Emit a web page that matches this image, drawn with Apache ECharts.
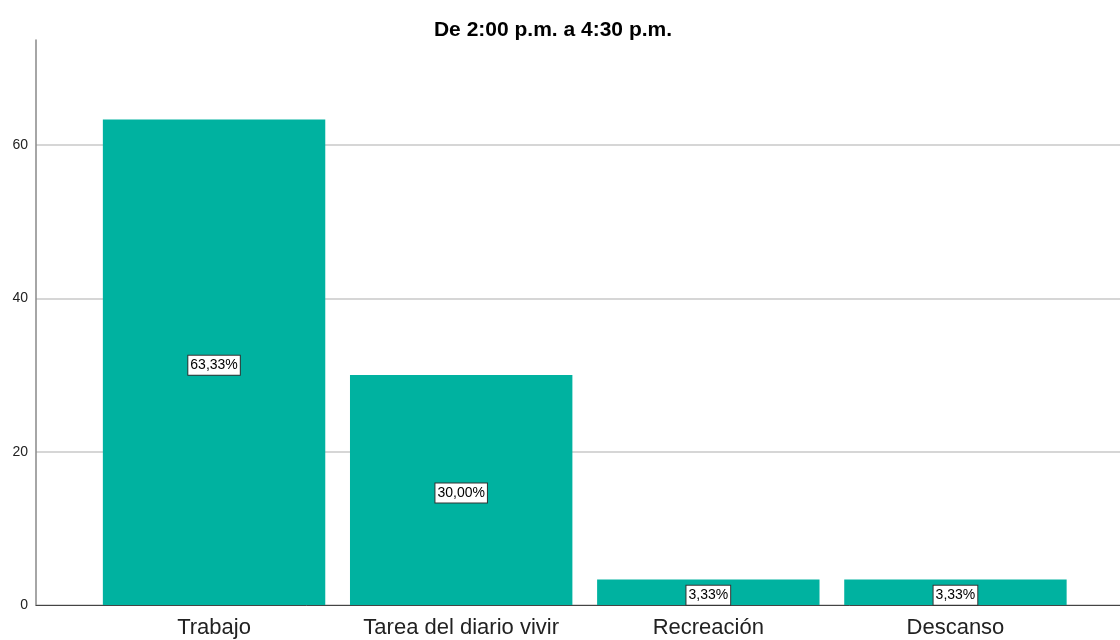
<!DOCTYPE html>
<html>
<head>
<meta charset="utf-8">
<script src="https://cdn.jsdelivr.net/npm/echarts@6/dist/echarts.min.js"></script>
<style>
  html, body { margin: 0; padding: 0; background: #fff; }
  #main { width: 1120px; height: 640px; }
</style>
</head>
<body>
<div id="main"></div>
<script>
// datos
var categorias = ['Trabajo', 'Tarea del diario vivir', 'Recreación', 'Descanso'];
var porcentajes = [63.33, 30.00, 3.33, 3.33];
var ticksY = [0, 20, 40, 60];

var chartDom = document.getElementById('main');
var myChart = echarts.init(chartDom);

var yMax = 73.7;

var option = {
    animation: false,
    title: {
        text: 'De 2:00 p.m. a 4:30 p.m.',
        left: 548,
        textAlign: 'center',
        top: 15,
        textStyle: { fontFamily: 'Liberation Sans', fontSize: 21, fontWeight: 'bold', color: '#000' }
    },
    grid: [
        // grid para eje y y lineas de cuadricula
        { left: 36, right: 0, top: 40, bottom: 35 },
        // grid para las barras
        { left: 90.5, right: 41, top: 40, bottom: 35 }
    ],
    xAxis: [
        {
            gridIndex: 0, type: 'value', min: 0, max: 1,
            axisLine: { show: true, onZero: false, lineStyle: { color: '#444', width: 1 } },
            axisTick: { show: false }, axisLabel: { show: false }, splitLine: { show: false }
        },
        {
            gridIndex: 1, type: 'category', data: categorias,
            axisLine: { show: false }, axisTick: { show: false },
            axisLabel: { interval: 0, hideOverlap: false, color: '#222', fontFamily: 'Liberation Sans', fontSize: 22, margin: 12 }
        }
    ],
    yAxis: [
        {
            gridIndex: 0, type: 'value', min: 0, max: yMax, interval: 20,
            axisLine: { show: true, lineStyle: { color: '#888', width: 1.5 } },
            axisTick: { show: false },
            axisLabel: {
                showMaxLabel: false, color: '#222', fontFamily: 'Liberation Sans', fontSize: 14, margin: 8,
                formatter: function (v) { return ticksY.indexOf(v) >= 0 ? v : ''; }
            },
            splitLine: { show: true, showMaxLine: false, lineStyle: { color: '#c8c8c8', width: 1.5 } }
        },
        {
            gridIndex: 1, type: 'value', min: 0, max: yMax, show: false
        }
    ],
    series: [
        {
            type: 'bar',
            xAxisIndex: 1, yAxisIndex: 1,
            data: porcentajes,
            barCategoryGap: '10%',
            itemStyle: { color: '#00b2a0' },
            label: {
                show: true,
                position: 'inside',
                offset: [0, 3],
                formatter: function (p) { return p.value.toFixed(2).replace('.', ',') + '%'; },
                color: '#000',
                fontFamily: 'Liberation Sans',
                fontSize: 14,
                backgroundColor: '#fff',
                borderColor: '#333',
                borderWidth: 1,
                padding: [3, 2, 2, 2]
            }
        }
    ]
};

myChart.setOption(option);
</script>
</body>
</html>
